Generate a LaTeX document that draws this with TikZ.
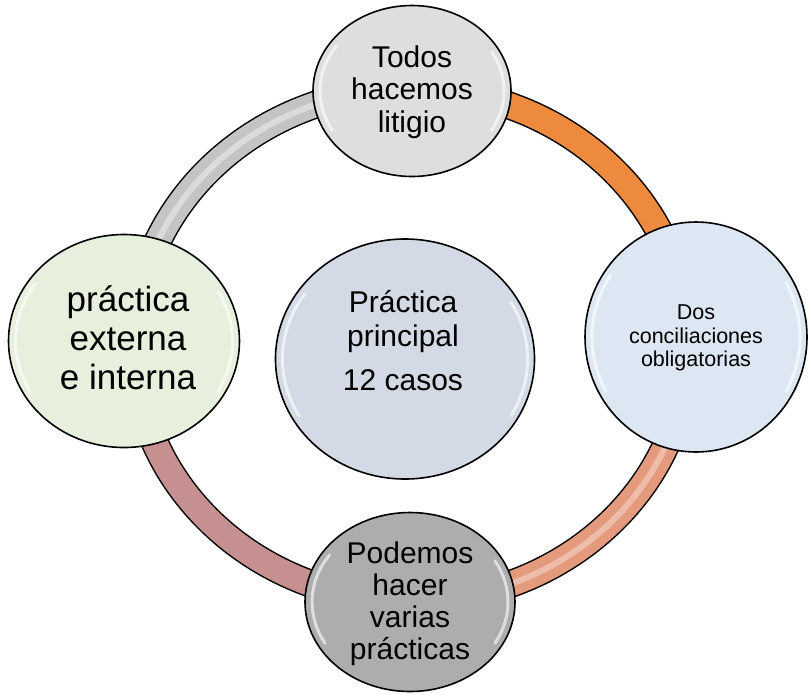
\documentclass[tikz,border=0pt]{standalone}
\usepackage{fontspec}
\setmainfont{Liberation Sans}
\usetikzlibrary{shapes.geometric}
\definecolor{ringgray}{HTML}{C4C4C4}
\definecolor{ringorange}{HTML}{EE8A3E}
\definecolor{ringsalmon}{HTML}{E49A7C}
\definecolor{ringrose}{HTML}{C79090}
\definecolor{topfill}{HTML}{DEDEDE}
\definecolor{leftfill}{HTML}{E6F0DC}
\definecolor{rightfill}{HTML}{DDE7F3}
\definecolor{centerfill}{HTML}{D3DAE5}
\definecolor{botfill}{HTML}{ADADAD}
\begin{document}
\begin{tikzpicture}[x=1pt,y=-1pt,
  bubble/.style={ellipse, draw=black, line width=1.6pt, inner sep=0pt},
  txt/.style={align=center, text=black, inner sep=0pt},
  ringband/.style={line width=25pt},
  gloss/.style={white, line width=3pt, opacity=0.6, line cap=round}]
\useasboundingbox (0,0) rectangle (810,694);
\fill[white] (0,0) rectangle (810,694);
% ring
\coordinate (rc) at (411,345);
\draw[black, line width=28pt] (rc) ellipse [x radius=277, y radius=256];
\begin{scope}
  \clip (411,0) rectangle (810,345);
  \draw[ringorange, ringband] (rc) ellipse [x radius=277, y radius=256];
\end{scope}
\begin{scope}
  \clip (411,345) rectangle (810,694);
  \draw[ringsalmon, ringband] (rc) ellipse [x radius=277, y radius=256];
  \draw[white, line width=6pt, opacity=0.35] (rc) ellipse [x radius=277, y radius=256];
\end{scope}
\begin{scope}
  \clip (0,345) rectangle (411,694);
  \draw[ringrose, ringband] (rc) ellipse [x radius=277, y radius=256];
\end{scope}
\begin{scope}
  \clip (0,0) rectangle (411,345);
  \draw[ringgray, ringband] (rc) ellipse [x radius=277, y radius=256];
  \draw[white, line width=6pt, opacity=0.4] (rc) ellipse [x radius=277, y radius=256];
\end{scope}
% bubbles
\node[bubble, fill=topfill, minimum width=198pt, minimum height=171pt] (top) at (412,91) {};
\node[bubble, fill=leftfill, minimum width=231pt, minimum height=213pt] (left) at (124,341) {};
\node[bubble, fill=rightfill, minimum width=222pt, minimum height=230pt] (right) at (696,337) {};
\node[bubble, fill=botfill, minimum width=210pt, minimum height=179pt] (bot) at (410,602) {};
\node[bubble, fill=centerfill, minimum width=259pt, minimum height=240pt] (mid) at (405,359) {};
% gloss highlights
\foreach \cx/\cy/\rx/\ry in {412/91/99/85.5, 124/341/115.5/106.5, 696/337/111/115, 410/602/105/89.5, 405/359/129.5/120} {
  \draw[gloss] ([shift={(150:{\rx-7} and {\ry-7})}]\cx,\cy) arc[start angle=150, end angle=215, x radius=\rx-7, y radius=\ry-7];
  \draw[gloss] ([shift={(-30:{\rx-7} and {\ry-7})}]\cx,\cy) arc[start angle=-30, end angle=30, x radius=\rx-7, y radius=\ry-7];
}
% texts
\node[txt, font=\fontsize{30}{32.5}\selectfont] (topT) at (412,92) {Todos\\hacemos\\litigio};
\node[txt, font=\fontsize{35}{39}\selectfont] (leftT) at (128,338) {práctica\\externa\\e interna};
\node[txt, font=\fontsize{21.5}{23.5}\selectfont] (rightT) at (696,338) {Dos\\conciliaciones\\obligatorias};
\node[txt, font=\fontsize{30}{32}\selectfont] (botT) at (410,604) {Podemos\\hacer\\varias\\prácticas};
\node[txt, font=\fontsize{30}{34}\selectfont] (midT) at (403,341) {Práctica\\principal\\[10pt]12 casos};
\end{tikzpicture}
\end{document}
